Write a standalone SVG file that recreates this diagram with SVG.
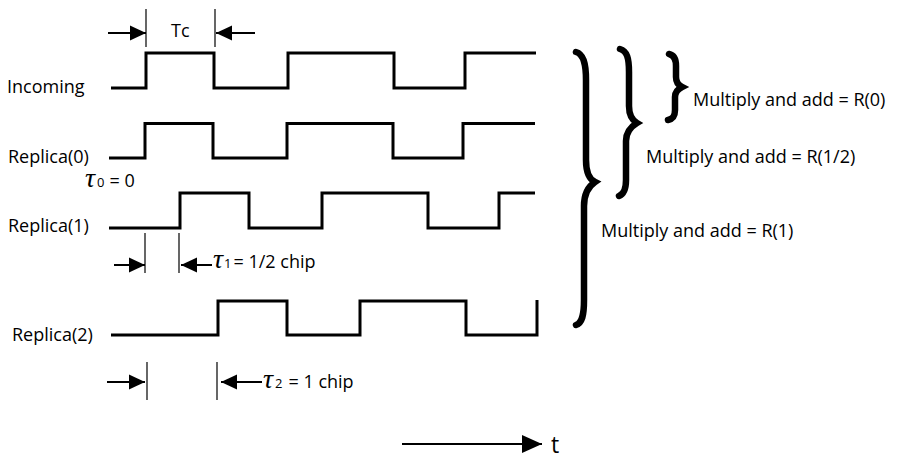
<svg xmlns="http://www.w3.org/2000/svg" width="905" height="460" viewBox="0 0 905 460">
<style>
.lbl{font-family:"Open Sans","Noto Sans",sans-serif;font-size:18px;fill:#000}
.tau{font-family:"Liberation Serif","DejaVu Serif",serif;font-style:italic;font-size:28px;fill:#000}
.sub{font-family:"Open Sans","Noto Sans",sans-serif;font-size:13px;fill:#000}
.wave{fill:none;stroke:#000;stroke-width:3;stroke-linejoin:miter}
.tick{stroke:#000;stroke-width:1.2}
.arr{stroke:#000;stroke-width:2;fill:none}
.brace{fill:none;stroke:#000;stroke-width:6.5;stroke-linecap:round}
</style>
<defs>
<marker id="ah" markerUnits="userSpaceOnUse" markerWidth="16" markerHeight="16" viewBox="0 0 16 16" refX="16" refY="8" orient="auto">
<path d="M0 0.5 L16 8 L0 15.5 Z" fill="#000"/>
</marker>
<marker id="ahBig" markerUnits="userSpaceOnUse" markerWidth="20" markerHeight="20" viewBox="0 0 20 20" refX="20" refY="10" orient="auto">
<path d="M0 1 L20 10 L0 19 Z" fill="#000"/>
</marker>
</defs>

<g id="incoming">
<text class="lbl" x="7" y="93">Incoming</text>
<path class="wave" d="M111 88 H146 V53 H214 V88 H288 V53 H394 V88 H465 V53 H536"/>
</g>
<g id="replica0">
<text class="lbl" x="8" y="163">Replica(0)</text>
<path class="wave" d="M109 158 H145 V123.5 H213 V158 H287 V123.5 H393 V158 H463 V123.5 H535"/>
</g>
<g id="replica1">
<text class="lbl" x="8" y="232">Replica(1)</text>
<path class="wave" d="M109 228 H180 V193 H249 V228 H322 V193 H428 V228 H499 V193 H535"/>
</g>
<g id="replica2">
<text class="lbl" x="12" y="341">Replica(2)</text>
<path class="wave" d="M111 335 H218 V301 H287 V335 H360 V301 H466 V335 H537 V300"/>
</g>

<g id="tc-marker">
<line class="tick" x1="146" y1="9" x2="146" y2="47"/>
<line class="tick" x1="215" y1="9" x2="215" y2="47"/>
<text class="lbl" x="171" y="37">Tc</text>
</g>
<g id="tau0">
<text x="85" y="187"><tspan class="tau">τ</tspan><tspan class="sub" dx="2">0</tspan><tspan class="lbl" dx="5">= 0</tspan></text>
</g>
<g id="tau1-marker">
<line class="tick" x1="145" y1="233" x2="145" y2="273"/>
<line class="tick" x1="179" y1="233" x2="179" y2="273"/>
<text x="213" y="268"><tspan class="tau">τ</tspan><tspan class="sub" dx="1">1</tspan><tspan class="lbl" dx="2">= 1/2 chip</tspan></text>
</g>
<g id="tau2-marker">
<line class="tick" x1="147" y1="362" x2="147" y2="400"/>
<line class="tick" x1="217" y1="362" x2="217" y2="400"/>
<text x="263" y="388"><tspan class="tau">τ</tspan><tspan class="sub" dx="2">2</tspan><tspan class="lbl" dx="6">= 1 chip</tspan></text>
</g>

<g id="braces">
<path class="brace" d="M576 52 C583 54 586 62 586 80 L586 160 C586 172 589 179 595 182 C589 186 584 194 584 206 L584 300 C584 316 582 323 576 325"/>
<path class="brace" d="M620 49 C627 51 629 58 629 72 L629 106 C629 115 632 120 637 123 C632 126 626 131 626 141 L626 180 C626 189 624 194 619 196"/>
<path class="brace" d="M669 54 C674 55 676 59 676 66 L676 77 C676 82 678 85 682 87 C678 89 675 92 675 97 L675 110 C675 116 673 119 668 120"/>
</g>
<g id="results">
<text class="lbl" x="693" y="106">Multiply and add = R(0)</text>
<text class="lbl" x="646" y="163">Multiply and add = R(1/2)</text>
<text class="lbl" x="601" y="237">Multiply and add = R(1)</text>
</g>
<g id="time-axis">
<text class="lbl" x="551" y="453" style="font-size:23px">t</text>
</g>

<g id="connectors">
<line class="arr" x1="108" y1="33" x2="146" y2="33" marker-end="url(#ah)"/>
<line class="arr" x1="255" y1="33" x2="216" y2="33" marker-end="url(#ah)"/>
<line class="arr" x1="114" y1="265" x2="145" y2="265" marker-end="url(#ah)"/>
<line class="arr" x1="212" y1="265" x2="181" y2="265" marker-end="url(#ah)"/>
<line class="arr" x1="107" y1="382" x2="145" y2="382" marker-end="url(#ah)"/>
<line class="arr" x1="262" y1="382" x2="221" y2="382" marker-end="url(#ah)"/>
<line class="arr" x1="402" y1="444" x2="542" y2="444" marker-end="url(#ahBig)"/>
</g>
</svg>
